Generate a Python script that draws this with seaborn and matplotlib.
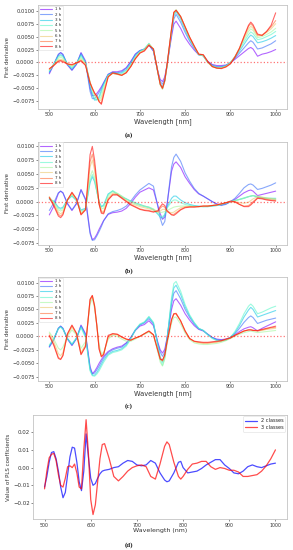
import numpy as np
import pandas as pd
import matplotlib
matplotlib.use("Agg")
import matplotlib.pyplot as plt
import seaborn as sns

# ---------------- data ----------------
hours = ["1 h", "2 h", "3 h", "4 h", "5 h", "6 h", "7 h", "8 h"]

wavelength = [500, 510, 520, 525, 530, 540, 550, 560, 570, 580,
              590, 595, 600, 605, 610, 615, 620, 630, 640, 650,
              660, 670, 680, 690, 700, 710, 720, 730, 740, 745,
              750, 755, 760, 770, 775, 780, 790, 800, 810, 820,
              830, 840, 850, 860, 870, 880, 890, 900, 910, 920,
              930, 940, 945, 950, 960, 970, 980, 990, 1000]

# values in units of 1e-3 (first derivative)
a_1h = [-2.2, -0.4, 1.5, 1.9, 1.5, -0.5, -1.5, -0.4, 1.9, 0.3,
        -5.0, -6.4, -6.4, -6.0, -5.4, -4.7, -3.9, -2.3, -1.8, -1.8,
        -1.6, -1.0, 0.2, 1.6, 2.3, 2.6, 3.4, 2.2, -1.8, -3.3,
        -3.7, -2.8, -0.5, 5.0, 7.4, 8.0, 6.6, 4.8, 3.5, 2.4,
        1.5, 1.3, 0.2, -0.4, -0.6, -0.6, -0.5, -0.1, 0.6, 1.3,
        2.0, 2.7, 2.9, 2.6, 1.2, 1.6, 1.8, 2.1, 2.5]
a_2h = [-2.0, -0.3, 1.6, 1.9, 1.6, -0.4, -1.5, -0.3, 1.8, 0.0,
        -5.6, -7.0, -7.0, -6.5, -5.8, -5.0, -4.0, -2.3, -1.9, -2.0,
        -1.8, -1.1, 0.1, 1.6, 2.3, 2.5, 3.4, 2.2, -2.0, -3.7,
        -4.2, -3.2, -0.6, 5.6, 8.4, 9.3, 7.8, 5.8, 4.1, 2.7,
        1.5, 1.3, 0.1, -0.5, -0.8, -0.8, -0.6, -0.1, 0.8, 1.8,
        2.8, 3.8, 4.2, 3.9, 2.6, 2.8, 3.2, 3.6, 4.2]
a_3h = [-1.8, -0.3, 1.3, 1.5, 1.3, -0.3, -1.2, -0.2, 1.5, 0.0,
        -4.5, -6.3, -7.3, -7.2, -6.6, -5.4, -4.2, -2.4, -2.0, -2.1,
        -2.0, -1.4, -0.2, 1.3, 2.2, 2.6, 3.6, 2.4, -2.0, -4.0,
        -4.8, -3.5, -0.7, 6.0, 9.0, 9.8, 8.4, 6.3, 4.4, 2.9,
        1.5, 1.3, 0.0, -0.6, -0.9, -0.9, -0.6, 0.0, 1.0, 2.2,
        3.5, 4.8, 5.3, 5.0, 3.8, 4.0, 4.3, 4.7, 5.2]
a_4h = [-1.6, -0.3, 1.1, 1.3, 1.1, -0.3, -1.0, -0.1, 1.2, 0.0,
        -4.0, -5.8, -7.0, -7.3, -7.0, -5.8, -4.4, -2.5, -2.1, -2.2,
        -2.2, -1.6, -0.4, 1.1, 2.1, 2.6, 3.7, 2.5, -2.1, -4.3,
        -5.1, -3.6, -0.7, 6.2, 9.3, 10.1, 8.7, 6.5, 4.6, 3.0,
        1.5, 1.3, 0.0, -0.7, -1.0, -1.0, -0.7, 0.0, 1.1, 2.5,
        4.0, 5.4, 5.9, 5.6, 4.4, 4.6, 5.0, 5.4, 6.0]
a_5h = [-1.5, -0.4, 0.8, 1.0, 0.8, -0.3, -0.8, -0.1, 0.9, -0.2,
        -3.8, -5.3, -6.4, -7.0, -7.3, -6.6, -5.0, -2.6, -2.1, -2.3,
        -2.4, -1.8, -0.6, 0.9, 2.0, 2.5, 3.6, 2.6, -2.0, -4.3,
        -5.2, -3.7, -0.7, 6.3, 9.5, 10.2, 8.9, 6.7, 4.7, 3.0,
        1.5, 1.3, 0.0, -0.8, -1.1, -1.1, -0.8, -0.1, 1.1, 2.6,
        4.4, 6.0, 6.5, 6.2, 4.8, 5.0, 5.4, 5.9, 6.6]
a_6h = [-1.4, -0.5, 0.5, 0.6, 0.5, -0.3, -0.6, -0.1, 0.6, -0.4,
        -3.8, -5.1, -6.1, -6.8, -7.5, -7.2, -5.5, -2.7, -2.1, -2.3,
        -2.5, -1.9, -0.7, 0.8, 1.9, 2.4, 3.5, 2.6, -2.0, -4.3,
        -5.1, -3.6, -0.6, 6.4, 9.6, 10.1, 8.9, 6.8, 4.8, 3.1,
        1.6, 1.4, 0.0, -0.8, -1.1, -1.1, -0.8, -0.2, 1.1, 2.7,
        4.7, 6.5, 7.0, 6.6, 5.1, 5.3, 5.8, 6.5, 7.5]
a_7h = [-1.3, -0.5, 0.3, 0.4, 0.3, -0.3, -0.5, -0.1, 0.4, -0.5,
        -3.9, -5.0, -6.0, -6.6, -7.6, -7.9, -6.0, -2.8, -2.1, -2.3,
        -2.5, -2.0, -0.8, 0.7, 1.8, 2.3, 3.4, 2.6, -2.0, -4.2,
        -5.0, -3.5, -0.5, 6.5, 9.7, 10.1, 8.9, 6.9, 4.9, 3.2,
        1.6, 1.5, 0.1, -0.8, -1.1, -1.1, -0.8, -0.2, 1.1, 2.8,
        5.0, 7.0, 7.5, 7.0, 5.3, 5.3, 6.0, 6.9, 8.1]
a_8h = [-1.2, -0.6, 0.2, 0.3, 0.1, -0.3, -0.4, -0.1, 0.3, -0.6,
        -4.0, -5.0, -5.9, -6.5, -7.6, -8.1, -6.3, -2.8, -2.0, -2.2,
        -2.5, -2.0, -0.8, 0.7, 1.8, 2.2, 3.3, 2.6, -2.0, -4.2,
        -5.0, -3.5, -0.5, 6.5, 9.7, 10.1, 8.9, 6.9, 4.9, 3.2,
        1.6, 1.5, 0.2, -0.8, -1.1, -1.2, -0.9, -0.3, 1.0, 2.7,
        5.0, 7.2, 7.8, 7.3, 5.5, 5.2, 6.0, 7.2, 9.6]

b_1h = [-2.4, -0.8, 1.5, 1.9, 1.6, -0.4, -1.6, -0.4, 2.2, 0.5,
        -5.5, -6.9, -6.6, -5.9, -5.0, -4.2, -3.4, -2.3, -2.0, -1.9,
        -1.7, -1.2, -0.3, 0.8, 1.7, 2.1, 2.5, 2.1, -0.8, -2.2,
        -3.2, -2.8, -0.5, 5.5, 6.8, 7.2, 6.2, 4.5, 3.3, 2.2,
        1.4, 1.0, 0.5, 0.0, -0.4, -0.6, -0.4, 0.0, 0.4, 1.0,
        1.6, 2.0, 2.1, 1.9, 1.1, 1.3, 1.5, 1.7, 1.9]
b_2h = [-1.6, -0.2, 1.6, 1.9, 1.6, -0.3, -1.5, -0.3, 2.1, 0.3,
        -5.8, -7.0, -6.9, -6.2, -5.4, -4.5, -3.5, -2.2, -1.8, -1.6,
        -1.3, -0.8, 0.1, 1.2, 2.1, 2.7, 3.3, 2.8, -1.0, -3.0,
        -4.3, -3.6, -0.6, 6.3, 8.0, 8.6, 7.3, 5.2, 3.7, 2.4,
        1.5, 1.0, 0.5, 0.0, -0.5, -0.7, -0.5, 0.0, 0.6, 1.5,
        2.5, 3.1, 3.2, 3.0, 2.2, 2.4, 2.7, 3.0, 3.4]
b_3h = [0.4, 0.1, -1.0, -1.2, -1.0, 0.3, 1.0, 0.2, -1.5, -1.2,
        3.4, 4.5, 3.6, 1.8, 0.0, -0.9, -0.6, 1.4, 1.9, 1.3,
        0.8, 0.5, 0.1, -0.2, -0.5, -0.8, -1.0, -1.4, -2.3, -2.8,
        -3.0, -2.4, -1.0, 0.6, 1.0, 1.0, 0.3, -0.2, -0.5, -0.7,
        -0.8, -0.9, -0.9, -0.8, -0.7, -0.5, -0.3, 0.0, 0.2, 0.4,
        0.6, 0.9, 1.0, 1.1, 0.8, 0.7, 0.6, 0.6, 0.6]
b_4h = [0.6, 0.0, -1.2, -1.4, -1.2, 0.4, 1.1, 0.2, -1.7, -1.3,
        3.8, 4.9, 3.9, 1.9, -0.1, -1.0, -0.8, 1.3, 2.0, 1.5,
        1.0, 0.5, 0.0, -0.4, -0.7, -0.9, -1.1, -1.5, -2.2, -2.6,
        -2.7, -2.3, -1.2, 0.0, 0.3, 0.3, -0.2, -0.5, -0.7, -0.8,
        -0.9, -0.9, -0.9, -0.8, -0.7, -0.5, -0.3, 0.0, 0.2, 0.4,
        0.7, 0.9, 1.0, 1.1, 0.9, 0.7, 0.6, 0.5, 0.4]
b_5h = [0.8, -0.2, -1.5, -1.7, -1.5, 0.3, 1.3, 0.3, -2.0, -1.4,
        4.5, 5.6, 4.4, 2.0, -0.3, -1.3, -1.2, 1.0, 1.8, 1.5,
        1.0, 0.4, 0.0, -0.3, -0.6, -0.8, -1.0, -1.3, -1.9, -2.0,
        -1.9, -1.8, -1.6, -1.2, -1.0, -0.9, -0.8, -0.8, -0.8, -0.9,
        -0.9, -0.9, -0.8, -0.7, -0.6, -0.4, -0.2, 0.0, 0.2, 0.4,
        0.6, 0.9, 1.0, 1.1, 1.0, 0.8, 0.7, 0.6, 0.5]
b_6h = [0.9, -0.4, -1.9, -2.2, -1.9, 0.3, 1.5, 0.4, -2.2, -1.4,
        6.3, 7.5, 5.7, 2.6, -0.4, -1.7, -1.8, 0.6, 1.5, 1.4,
        0.8, 0.2, -0.3, -0.6, -0.9, -1.1, -1.3, -1.5, -1.9, -1.7,
        -1.4, -1.4, -1.8, -2.0, -1.9, -1.6, -1.1, -0.9, -0.9, -0.9,
        -0.9, -0.8, -0.8, -0.7, -0.6, -0.4, -0.2, 0.0, 0.0, -0.2,
        -0.3, -0.1, 0.2, 0.5, 0.9, 0.8, 0.6, 0.5, 0.4]
b_7h = [0.8, -0.6, -2.3, -2.6, -2.2, 0.3, 1.6, 0.5, -2.3, -1.4,
        7.2, 8.6, 6.5, 3.0, -0.4, -1.9, -2.0, 0.4, 1.3, 1.3,
        0.7, 0.1, -0.5, -0.9, -1.3, -1.5, -1.6, -1.8, -1.8, -1.2,
        -0.8, -1.0, -1.8, -2.3, -2.3, -2.0, -1.4, -1.0, -0.9, -0.9,
        -0.9, -0.8, -0.8, -0.7, -0.6, -0.4, -0.2, 0.0, -0.1, -0.5,
        -0.8, -0.7, -0.4, 0.0, 0.7, 0.6, 0.4, 0.3, 0.2]
b_8h = [0.7, -0.8, -2.6, -2.9, -2.4, 0.3, 1.7, 0.5, -2.4, -1.5,
        8.5, 10.0, 7.5, 3.5, -0.5, -2.1, -2.2, 0.3, 1.2, 1.2,
        0.6, 0.0, -0.6, -1.0, -1.4, -1.6, -1.7, -1.9, -1.6, -0.9,
        -0.4, -0.7, -1.6, -2.4, -2.5, -2.2, -1.5, -1.1, -1.0, -1.0,
        -0.9, -0.8, -0.8, -0.7, -0.6, -0.4, -0.2, 0.1, 0.0, -0.5,
        -0.9, -0.9, -0.6, -0.2, 0.6, 0.5, 0.3, 0.2, 0.1]

c_1h = [-2.0, -0.6, 1.5, 1.9, 1.5, -0.5, -1.7, -0.4, 2.1, 0.5,
        -5.6, -6.9, -6.5, -5.8, -5.0, -4.3, -3.7, -2.8, -2.3, -2.0,
        -1.8, -1.2, -0.2, 1.1, 1.9, 2.2, 2.9, 2.0, -1.2, -2.5,
        -3.1, -2.4, -0.3, 5.0, 6.6, 7.0, 5.8, 4.2, 3.0, 2.0,
        1.3, 1.0, 0.4, -0.2, -0.5, -0.6, -0.5, -0.2, 0.3, 0.9,
        1.4, 1.7, 1.8, 1.6, 1.0, 1.5, 1.9, 2.3, 2.7]
c_2h = [-1.9, -0.5, 1.5, 1.9, 1.5, -0.4, -1.6, -0.4, 2.0, 0.3,
        -5.9, -7.0, -6.8, -6.2, -5.5, -4.7, -4.0, -3.0, -2.5, -2.2,
        -2.0, -1.3, -0.2, 1.2, 2.1, 2.5, 3.3, 2.3, -1.4, -2.9,
        -3.7, -2.9, -0.4, 6.0, 8.0, 8.5, 7.0, 5.0, 3.5, 2.3,
        1.4, 1.1, 0.4, -0.2, -0.6, -0.7, -0.6, -0.2, 0.5, 1.5,
        2.6, 3.5, 3.8, 3.5, 2.4, 2.7, 3.0, 3.2, 3.4]
c_3h = [-1.8, -0.4, 1.5, 1.8, 1.4, -0.4, -1.5, -0.3, 1.8, 0.0,
        -6.2, -7.2, -7.2, -6.7, -6.0, -5.2, -4.4, -3.3, -2.8, -2.6,
        -2.3, -1.6, -0.4, 1.2, 2.2, 2.6, 3.6, 2.5, -1.8, -3.8,
        -4.8, -3.7, -0.6, 6.7, 9.0, 9.5, 7.8, 5.5, 3.8, 2.5,
        1.5, 1.1, 0.3, -0.3, -0.7, -0.8, -0.7, -0.2, 0.7, 2.0,
        3.6, 4.9, 5.4, 5.0, 3.6, 3.9, 4.2, 4.5, 4.8]
c_4h = [-1.6, -0.4, 1.4, 1.7, 1.3, -0.4, -1.4, -0.3, 1.6, -0.2,
        -6.4, -7.3, -7.4, -7.0, -6.4, -5.6, -4.8, -3.5, -3.0, -2.8,
        -2.5, -1.8, -0.5, 1.2, 2.3, 2.7, 3.7, 2.6, -2.0, -4.3,
        -5.4, -4.0, -0.7, 7.2, 9.8, 10.2, 8.4, 5.9, 4.0, 2.6,
        1.5, 1.1, 0.3, -0.4, -0.8, -0.9, -0.7, -0.2, 0.9, 2.4,
        4.2, 5.6, 6.0, 5.6, 4.2, 4.5, 4.9, 5.3, 5.6]
c_5h = [0.8, -0.5, -2.2, -2.5, -2.0, 0.0, 1.2, 0.3, -2.2, -1.0,
        6.0, 7.0, 5.2, 2.0, -1.5, -3.2, -3.0, -0.5, 0.2, 0.0,
        -0.5, -0.9, -0.9, -0.5, 0.0, 0.4, 0.8, 0.2, -3.0, -4.8,
        -5.5, -4.2, -1.5, 2.5, 3.5, 3.6, 2.3, 0.6, -0.6, -1.2,
        -1.4, -1.5, -1.5, -1.4, -1.3, -1.1, -0.8, -0.4, 0.0, 0.4,
        0.7, 0.9, 1.0, 0.9, 0.7, 0.8, 0.9, 1.0, 1.1]
c_6h = [0.5, -1.0, -3.2, -3.6, -3.0, 0.2, 1.7, 0.4, -3.0, -1.5,
        6.6, 7.4, 5.5, 2.0, -2.0, -3.6, -3.2, -0.3, 0.4, 0.3,
        -0.2, -0.6, -0.7, -0.3, 0.0, 0.5, 0.9, 0.3, -2.8, -4.3,
        -4.6, -3.6, -1.2, 3.0, 4.1, 4.2, 2.8, 1.0, -0.4, -1.0,
        -1.2, -1.3, -1.3, -1.2, -1.1, -0.9, -0.6, -0.3, 0.2, 0.6,
        1.0, 1.2, 1.3, 1.2, 1.0, 1.1, 1.3, 1.4, 1.5]
c_7h = [0.2, -1.5, -3.9, -4.2, -3.5, 0.4, 2.0, 0.5, -3.3, -1.8,
        6.8, 7.6, 5.6, 2.0, -2.3, -3.7, -3.3, 0.0, 0.5, 0.4,
        -0.1, -0.5, -0.7, -0.3, 0.0, 0.5, 1.0, 0.3, -2.7, -4.2,
        -4.5, -3.5, -1.1, 3.1, 4.2, 4.3, 2.9, 1.0, -0.4, -0.9,
        -1.1, -1.2, -1.2, -1.1, -1.0, -0.8, -0.6, -0.3, 0.2, 0.6,
        1.0, 1.2, 1.2, 1.1, 1.0, 1.2, 1.4, 1.6, 1.7]
c_8h = [0.1, -1.7, -4.1, -4.3, -3.6, 0.5, 2.1, 0.6, -3.4, -1.9,
        6.9, 7.6, 5.7, 2.0, -2.4, -3.8, -3.4, 0.2, 0.5, 0.4,
        -0.1, -0.5, -0.7, -0.3, 0.0, 0.5, 1.0, 0.3, -2.7, -4.2,
        -4.4, -3.4, -1.0, 3.1, 4.2, 4.2, 2.9, 1.0, -0.4, -0.9,
        -1.0, -1.1, -1.1, -1.0, -0.9, -0.8, -0.5, -0.3, 0.2, 0.6,
        1.0, 1.2, 1.2, 1.1, 1.1, 1.3, 1.5, 1.7, 1.9]

# PLS coefficients (units of 1e-2)
wavelength_d = [500, 505, 510, 515, 520, 525, 530, 535, 540, 545,
                550, 555, 560, 565, 570, 575, 580, 585, 590, 595,
                600, 605, 610, 615, 620, 625, 630, 640, 650, 660,
                670, 680, 690, 700, 710, 720, 730, 740, 750, 760,
                765, 770, 780, 790, 795, 800, 810, 820, 830, 840,
                850, 860, 870, 880, 890, 900, 910, 920, 930, 940,
                950, 960, 970, 980, 990, 1000]
pls_2_classes = [-1.1, -0.5, 0.3, 0.85, 0.9, 0.5, -0.2, -1.1, -1.7, -1.4,
                 -0.4, 0.6, 1.15, 1.1, 0.3, -0.8, -1.3, -0.2, 1.9, 0.6,
                 -0.6, -1.0, -0.9, -0.6, -0.35, -0.2, -0.15, -0.1, 0.0, 0.05,
                 0.25, 0.4, 0.35, 0.15, 0.1, 0.15, 0.4, 0.25, -0.3, -0.7,
                 -0.8, -0.75, -0.3, 0.3, 0.35, 0.0, -0.3, -0.25, -0.2, -0.05,
                 0.15, 0.3, 0.45, 0.45, 0.15, -0.05, -0.3, -0.35, -0.2, 0.05,
                 0.15, 0.05, 0.0, 0.1, 0.2, 0.25]
pls_3_classes = [-1.2, -0.2, 0.55, 0.75, 0.8, 0.4, -0.4, -1.0, -1.1, -0.6,
                 0.05, 0.1, 0.0, 0.2, -0.3, -1.1, -1.2, 1.0, 2.7, 0.8,
                 -1.8, -2.65, -2.1, -0.8, 0.5, 1.3, 1.35, 0.5, -0.5, -0.75,
                 -0.5, -0.2, 0.0, 0.1, 0.15, 0.05, -0.5, -0.65, 0.2, 1.2,
                 1.45, 1.3, 0.3, -0.5, -0.65, -0.5, -0.1, 0.2, 0.25, 0.35,
                 0.35, 0.05, -0.1, 0.0, -0.05, -0.15, -0.15, -0.25, -0.5, -0.5,
                 -0.45, -0.4, -0.2, 0.1, 0.5, 1.0]

panel_a = [a_1h, a_2h, a_3h, a_4h, a_5h, a_6h, a_7h, a_8h]
panel_b = [b_1h, b_2h, b_3h, b_4h, b_5h, b_6h, b_7h, b_8h]
panel_c = [c_1h, c_2h, c_3h, c_4h, c_5h, c_6h, c_7h, c_8h]
for name, pan in (("a", panel_a), ("b", panel_b), ("c", panel_c)):
    for i, s in enumerate(pan):
        assert len(s) == len(wavelength), (name, i, len(s))
assert len(pls_2_classes) == len(wavelength_d) == len(pls_3_classes)

# ---------------- style ----------------
sns.set_theme(style="white")
plt.rcParams["font.family"] = ["DejaVu Sans"]
palette = [matplotlib.colors.to_hex(c) for c in plt.cm.rainbow(np.linspace(0, 1, 8))]
spine_col = "#c4c4c4"
txt_col = "#333333"

fig = plt.figure(figsize=(2.93, 5.5), dpi=100)

def style_axes(ax, xlabel, ylabel, xl_size, yl_size):
    for sp in ax.spines.values():
        sp.set_color(spine_col)
        sp.set_linewidth(0.6)
    ax.tick_params(axis="x", labelsize=3.4, pad=1, length=1.5, width=0.4,
                   colors=txt_col, bottom=True)
    ax.tick_params(axis="y", labelsize=3.7, pad=1, length=1.5, width=0.4,
                   colors=txt_col, left=True)
    ax.set_xlabel(xlabel, fontsize=xl_size, labelpad=0.5, color=txt_col)
    ax.set_ylabel(ylabel, fontsize=yl_size, labelpad=1.5, color=txt_col)
    ax.set_xticks([500, 600, 700, 800, 900, 1000])


def derivative_panel(rect, series):
    ax = fig.add_axes(rect)
    rows = []
    for h, vals in zip(hours, series):
        for w, v in zip(wavelength, vals):
            rows.append((w, v * 1e-3, h))
    df = pd.DataFrame(rows, columns=["wavelength", "value", "time"])
    sns.lineplot(data=df, x="wavelength", y="value", hue="time",
                 hue_order=hours, palette=palette, linewidth=0.8, alpha=0.6,
                 ax=ax, legend=True)
    ax.axhline(0, color="red", linestyle=":", linewidth=0.9, alpha=0.55)
    ax.set_yticks([-0.0075, -0.005, -0.0025, 0.0, 0.0025, 0.005, 0.0075, 0.01])
    ax.set_yticklabels(["\u22120.0075", "\u22120.0050", "\u22120.0025", "0.0000",
                        "0.0025", "0.0050", "0.0075", "0.0100"])
    style_axes(ax, "Wavelength [nm]", "First derivative", 4.8, 3.9)
    handles, labels = ax.get_legend_handles_labels()
    ax.legend(handles[:8], labels[:8], loc="upper left", fontsize=2.9,
              labelspacing=0.33, handlelength=2.9, borderaxespad=0.2,
              borderpad=0.4, handletextpad=0.8, frameon=True,
              edgecolor="#dddddd", framealpha=1).get_frame().set_linewidth(0.4)
    return ax

ax_a = derivative_panel([0.1297, 0.8018, 0.8498, 0.1891], panel_a)
ax_b = derivative_panel([0.1297, 0.5545, 0.8498, 0.1879], panel_b)
ax_c = derivative_panel([0.1297, 0.3073, 0.8498, 0.1896], panel_c)

# panel d
ax_d = fig.add_axes([0.1126, 0.0558, 0.8669, 0.1897])
df_d = pd.DataFrame({
    "wavelength": wavelength_d * 2,
    "value": [v * 1e-2 for v in pls_2_classes] + [v * 1e-2 for v in pls_3_classes],
    "model": ["2 classes"] * len(wavelength_d) + ["3 classes"] * len(wavelength_d),
})
sns.lineplot(data=df_d, x="wavelength", y="value", hue="model",
             hue_order=["2 classes", "3 classes"], palette=["#0000ff", "#ff0000"],
             linewidth=0.9, alpha=0.7, ax=ax_d, legend=True)
ax_d.set_yticks([-0.02, -0.01, 0.0, 0.01, 0.02])
ax_d.set_yticklabels(["\u22120.02", "\u22120.01", "0.00", "0.01", "0.02"])
style_axes(ax_d, "Wavelength (nm)", "Value of PLS coefficients", 4.5, 4.0)
ax_d.tick_params(axis="y", labelsize=3.9)
h, l = ax_d.get_legend_handles_labels()
ax_d.legend(h[:2], l[:2], loc="upper right", fontsize=3.6, labelspacing=0.3,
            handlelength=2.4, borderaxespad=0.3, handletextpad=0.8,
            edgecolor="#dddddd", framealpha=1).get_frame().set_linewidth(0.4)

# captions
for y, t in ((0.7545, "(a)"), (0.507, "(b)"), (0.262, "(c)"), (0.009, "(d)")):
    fig.text(0.439, y, t, ha="center", va="center", fontsize=5,
             family="Liberation Serif", weight="bold", color="#222222")

fig.savefig("out.png", dpi=100)
